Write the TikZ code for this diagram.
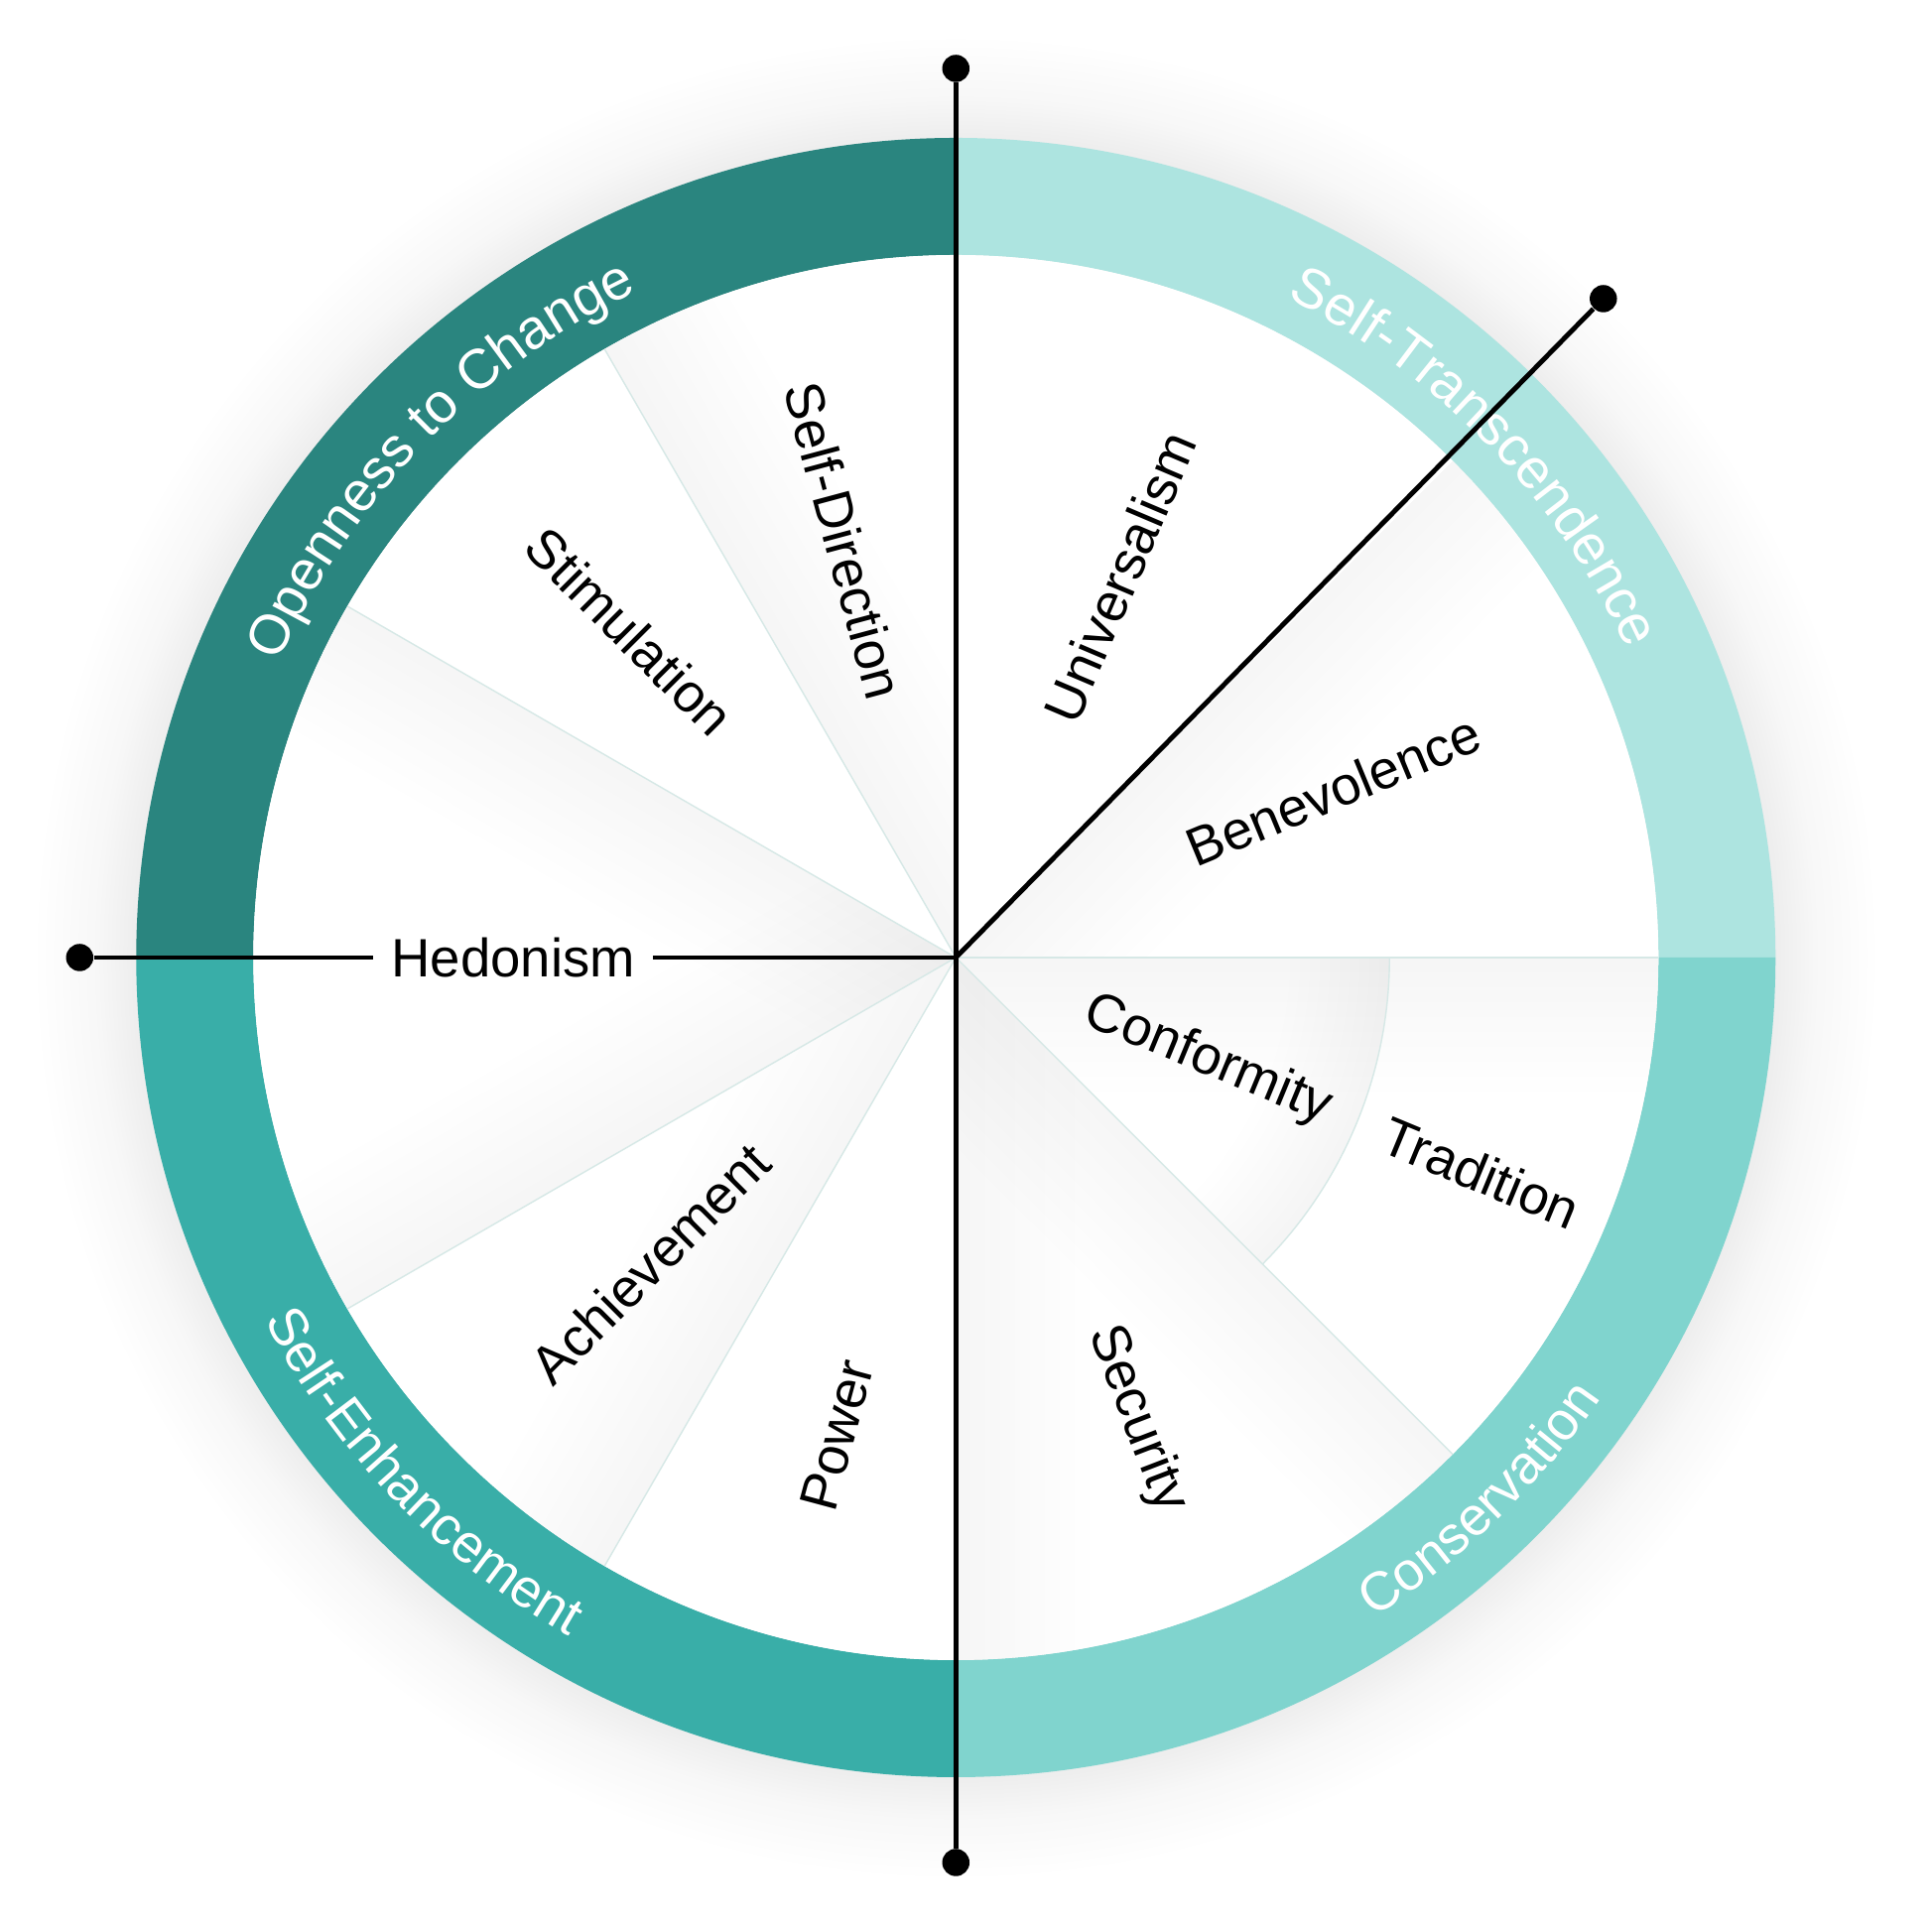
\documentclass[tikz,border=0pt]{standalone}
\usepackage{fontspec}
\setmainfont{Liberation Sans}
\usetikzlibrary{decorations.text}
\definecolor{openness}{HTML}{2A857F}
\definecolor{transcend}{HTML}{ADE4E0}
\definecolor{enhance}{HTML}{39AEA8}
\definecolor{conserve}{HTML}{80D4CE}
\definecolor{seam}{HTML}{D6E8E6}
\pgfdeclareradialshading{ringglow}{\pgfpointorigin}{color(0bp)=(black!7); color(22.2bp)=(black!7); color(23.3bp)=(black!3); color(25bp)=(white); color(50bp)=(white)}
\newcommand{\ringfont}{\fontsize{16}{18}\selectfont}
\newcommand{\lowringfont}{\fontsize{15.5}{18}\selectfont}
\tikzstyle{value} = [font=\fontsize{15.5}{18}\selectfont, inner sep=0pt]
\tikzstyle{dot} = [circle, fill=black, inner sep=0pt, minimum size=2.75mm]
\tikzstyle{spoke} = [draw, line width=1.4pt]
\tikzstyle{seamline} = [draw=seam, line width=0.4pt]
\tikzstyle{shadowstroke} = [draw=black, opacity=0.005]
\tikzset{ringlabel/.style={decorate, decoration={text along path, text align=center,
  text color=white, text={#1}}}}

\begin{document}
\begin{tikzpicture}
    \useasboundingbox (-9.633,-9.79) rectangle (9.837,9.65);
    \fill[white] (-9.633,-9.79) rectangle (9.837,9.65);
    \shade[shading=ringglow] (0,0) circle (9.3);

    % ring quadrants
    \foreach \a/\col in {0/transcend, 90/openness, 180/enhance, 270/conserve}
      \fill[\col] (\a:8.26) arc[start angle=\a, end angle={\a+90}, radius=8.26]
        -- ({\a+90}:7.08) arc[start angle={\a+90}, end angle=\a, radius=7.08] -- cycle;
    \fill[white] (0,0) circle (7.08);

    % soft shadows along the sector edges
    \foreach \e/\from/\to in {120/90/120, 150/150/210, 210/150/210, 240/210/240,
                              270/270/315, 315/270/315, 45/0/45, 0/-45/0} {
      \begin{scope}
        \clip (0,0) -- (\from:7.08) arc[start angle=\from, end angle=\to, radius=7.08] -- cycle;
        \foreach \w in {0.3,0.6,...,3.0}
          \path[shadowstroke, line width=\w cm] (0,0) -- (\e:7.08);
      \end{scope}
    }
    \begin{scope}
      \clip (0,0) -- (-45:4.37) arc[start angle=-45, end angle=0, radius=4.37] -- cycle;
      \foreach \w in {0.2,0.4,...,2.0}
        \path[shadowstroke, line width=\w cm] (-45:4.37) arc[start angle=-45, end angle=0, radius=4.37];
    \end{scope}

    % sector seams
    \foreach \e in {0,120,150,210,240,315}
      \path[seamline] (0,0) -- (\e:7.08);
    \path[seamline] (-45:4.37) arc[start angle=-45, end angle=0, radius=4.37];

    % ring labels
    \path[ringlabel={|\ringfont|Openness to Change}] (176:7.44) arc[start angle=176, end angle=96, radius=7.44];
    \path[ringlabel={|\ringfont|Self-Transcendence}] (84:7.44) arc[start angle=84, end angle=4, radius=7.44];
    \path[ringlabel={|\lowringfont|Self-Enhancement}] (184:7.87) arc[start angle=184, end angle=264, radius=7.87];
    \path[ringlabel={|\lowringfont|Conservation}] (274:7.87) arc[start angle=274, end angle=354, radius=7.87];

    % axes
    \coordinate (c) at (0,0);
    \node [dot] (north) at (0,8.96) {};
    \node [dot] (south) at (0,-9.12) {};
    \node [dot] (west) at (-8.83,0) {};
    \node [dot] (northeast) at (45.5:9.31) {};
    \node [value, inner xsep=1.75mm, inner ysep=1mm] (hedonism) at (180:4.46) {Hedonism};

    \path [spoke] (north) -- (south);
    \path [spoke] (west) -- (hedonism);
    \path [spoke] (hedonism) -- (c);
    \path [spoke] (c) -- (northeast);

    % value labels
    \node [value, rotate=-75] (selfdirection) at (105:4.35) {Self-Direction};
    \node [value, rotate=-45] (stimulation) at (135:4.65) {Stimulation};
    \node [value, rotate=45] (achievement) at (225:4.36) {Achievement};
    \node [value, rotate=75] (power) at (256:4.96) {Power};
    \node [value, rotate=-69] (security) at (291.4:5.0) {Security};
    \node [value, rotate=-22.5] (conformity) at (337.8:2.74) {Conformity};
    \node [value, rotate=-22.5] (tradition) at (337.7:5.72) {Tradition};
    \node [value, rotate=22.5] (benevolence) at (23.9:4.16) {Benevolence};
    \node [value, rotate=67] (universalism) at (66.7:4.18) {Universalism};

\end{tikzpicture}
\end{document}
